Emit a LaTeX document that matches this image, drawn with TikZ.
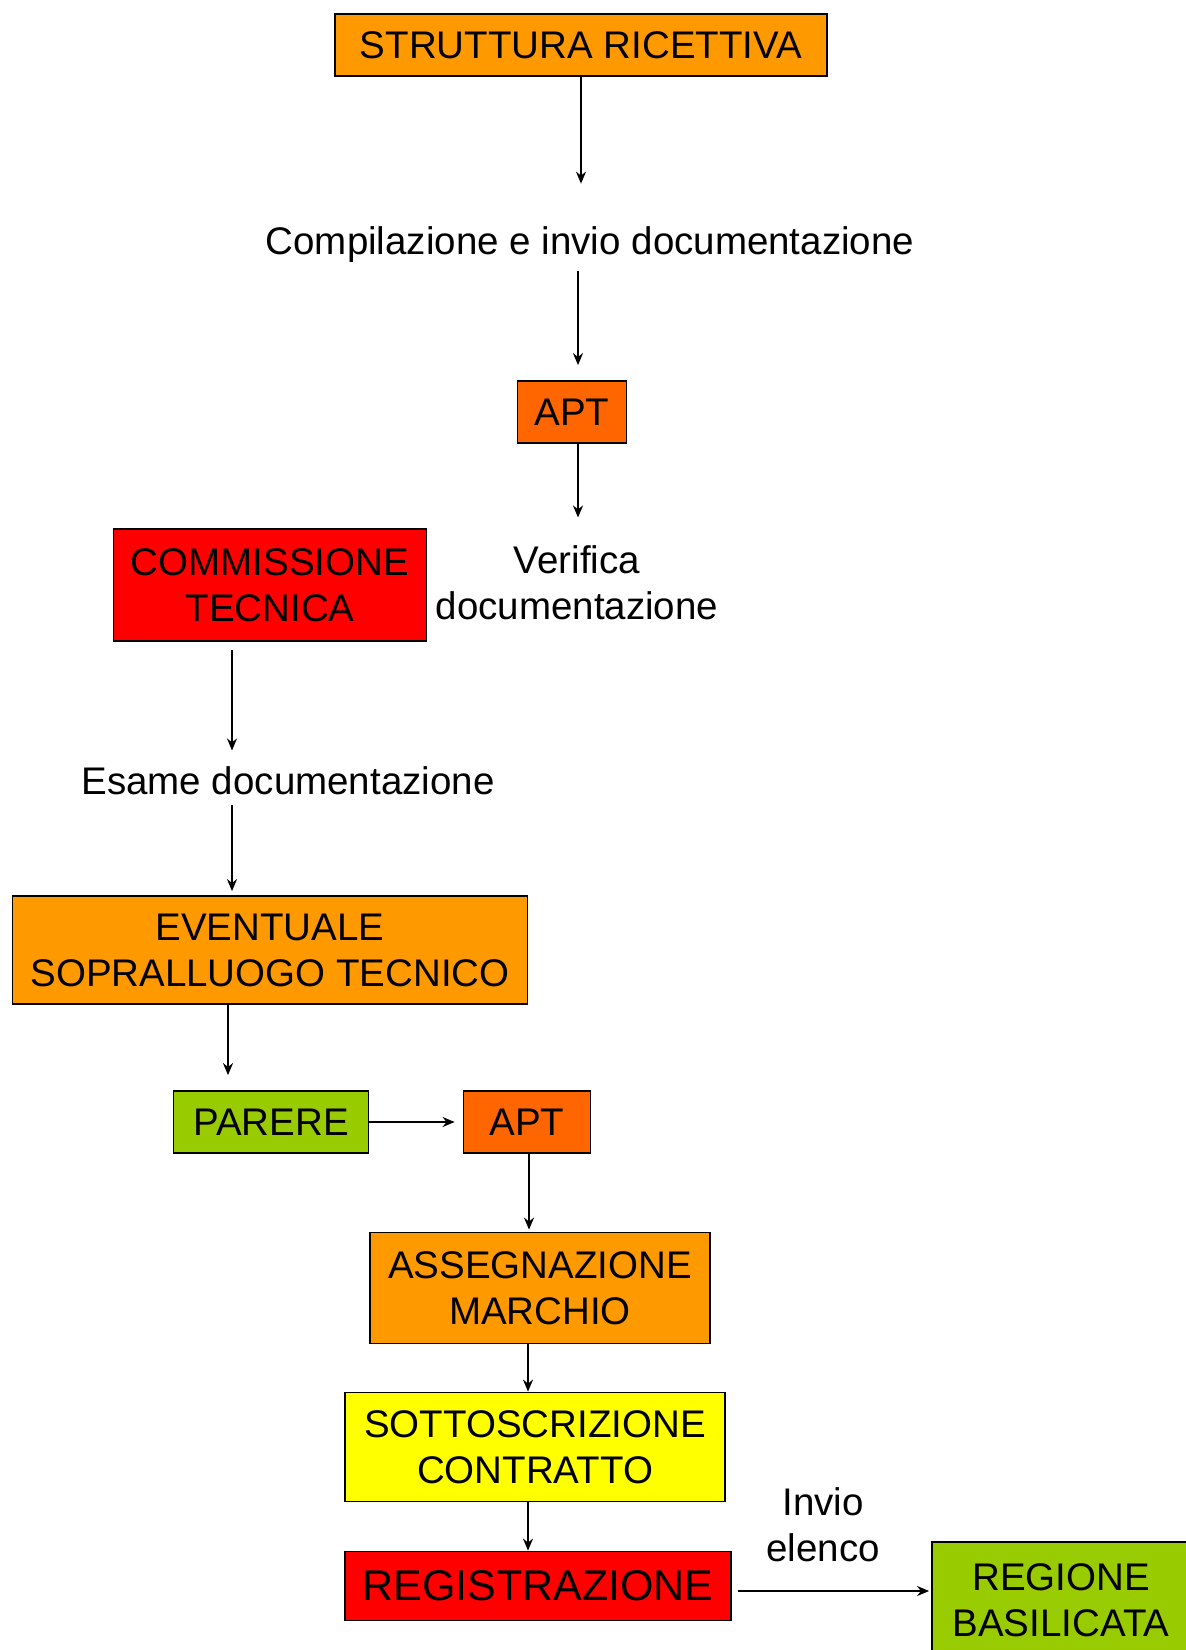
\documentclass[tikz,border=0pt]{standalone}
\usepackage{fontspec}
\setmainfont{Liberation Sans}
\usetikzlibrary{arrows.meta, positioning}

\definecolor{cOrange}{RGB}{255,153,0}
\definecolor{cApt}{RGB}{255,102,0}
\definecolor{cRed}{RGB}{255,0,0}
\definecolor{cGreen}{RGB}{153,204,0}
\definecolor{cYellow}{RGB}{255,255,0}

\begin{document}
\begin{tikzpicture}[x=0.5pt, y=-0.5pt,
  box/.style={rectangle, draw, line width=0.9pt, align=center, inner sep=0pt, font=\fontsize{19.25}{23}\selectfont},
  lbl/.style={align=center, inner sep=0pt, font=\fontsize{19.25}{23}\selectfont},
  arr/.style={-{Stealth[length=6pt,width=5pt]}, line width=0.9pt}]
\useasboundingbox[fill=white] (0,0) rectangle (1185,1650);

% Domanda
\node[box, fill=cOrange, minimum width=246pt, minimum height=31pt] (sr) at (581,45) {STRUTTURA RICETTIVA};
\node[lbl] (compil) at (590,245) {Compilazione e invio documentazione};
\node[box, fill=cApt, minimum width=54.5pt, minimum height=31pt] (apt1) at (572,412) {APT};
\node[lbl] (verifica) at (577,583) {Verifica\\documentazione};

% Commissione
\node[box, fill=cRed, minimum width=156.5pt, minimum height=56pt] (comm) at (270,585) {COMMISSIONE\\TECNICA};
\node[lbl] (esame) at (288,781) {Esame documentazione};
\node[box, fill=cOrange, minimum width=257.5pt, minimum height=54pt] (sopr) at (270,950) {EVENTUALE\\SOPRALLUOGO TECNICO};
\node[box, fill=cGreen, minimum width=97.5pt, minimum height=31pt] (parere) at (271,1122) {PARERE};
\node[box, fill=cApt, minimum width=63.5pt, minimum height=31pt] (apt2) at (527,1122) {APT};

% Marchio
\node[box, fill=cOrange, minimum width=170pt, minimum height=55.5pt] (marchio) at (540,1288) {ASSEGNAZIONE\\MARCHIO};
\node[box, fill=cYellow, minimum width=190pt, minimum height=54.5pt] (contratto) at (535,1447) {SOTTOSCRIZIONE\\CONTRATTO};
\node[box, fill=cRed, minimum width=193pt, minimum height=34.5pt, font=\fontsize{21.5}{25}\selectfont] (reg) at (538,1586) {REGISTRAZIONE};
\node[lbl] (invio) at (823,1525) {Invio\\elenco};
\node[box, fill=cGreen, minimum width=129pt, minimum height=58pt] (regione) at (1061,1600) {REGIONE\\BASILICATA};

% Frecce
\draw[arr, shorten >=21.5pt] (sr.south) -- (sr.south |- compil.north);
\draw[arr, shorten <=4pt, shorten >=7.5pt] ([xshift=-6pt]compil.south) -- ([xshift=3pt]apt1.north);
\draw[arr, shorten >=14pt] ([xshift=3pt]apt1.south) -- ([xshift=0.5pt]verifica.north);
\draw[arr, shorten <=4pt, shorten >=8pt] ([xshift=-19pt]comm.south) -- ([xshift=-28pt]esame.north);
\draw[arr, shorten <=4.5pt, shorten >=2pt] ([xshift=-28pt]esame.south) -- ([xshift=-19pt]sopr.north);
\draw[arr, shorten >=7.5pt] ([xshift=-21pt]sopr.south) -- ([xshift=-21.5pt]parere.north);
\draw[arr, shorten >=4pt] (parere.east) -- (apt2.west);
\draw[arr, shorten >=1pt] ([xshift=1pt]apt2.south) -- ([xshift=-5.5pt]marchio.north);
\draw[arr] ([xshift=-6pt]marchio.south) -- ([xshift=-3.5pt]contratto.north);
\draw[arr] ([xshift=-3.5pt]contratto.south) -- ([xshift=-5pt]reg.north);
\draw[arr, shorten <=3pt, shorten >=1pt] ([yshift=-2.5pt]reg.east) -- ([yshift=4.5pt]regione.west);
\end{tikzpicture}
\end{document}
